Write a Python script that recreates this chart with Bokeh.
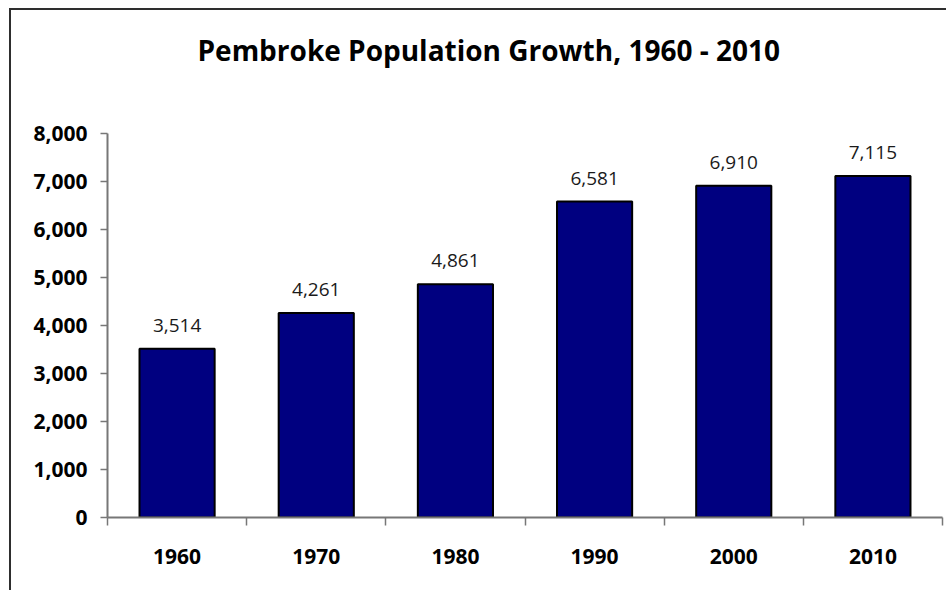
import numpy as np
from bokeh.plotting import figure
from bokeh.models import (ColumnDataSource, Range1d, FixedTicker, NumeralTickFormatter,
                          LabelSet, Title)
from bokeh.core.properties import value
from bokeh.embed import file_html
from bokeh.resources import INLINE

# ---- data ----
years = ["1960", "1970", "1980", "1990", "2000", "2010"]
population = [3514, 4261, 4861, 6581, 6910, 7115]
y_ticks = [0, 1000, 2000, 3000, 4000, 5000, 6000, 7000, 8000]
title_text = "Pembroke Population Growth, 1960 - 2010"

FONT = "Open Sans"
xpos = [i + 0.5 for i in range(len(years))]
src = ColumnDataSource(dict(
    x=xpos, top=population, year=years,
    label=[f"{v:,}" for v in population],
))

p = figure(width=937, height=582, output_backend="svg", toolbar_location=None,
           x_range=Range1d(0, len(years)), y_range=Range1d(y_ticks[0], y_ticks[-1]),
           min_border_left=96, min_border_right=6, min_border_top=123, min_border_bottom=75,
           styles={"border-left": "2px solid #2e2e2e", "border-top": "2px solid #2e2e2e",
                   "margin-left": "9px", "margin-top": "8px"})
p.title.text = ""
# spacer between the chart title and the plot frame
p.add_layout(Title(text=" ", text_font_size="1px", standoff=57), "above")
p.add_layout(Title(text=title_text, align="left", offset=90, standoff=10,
                   vertical_align="bottom",
                   text_font=FONT, text_font_size="28px", text_font_style="bold",
                   text_color="black"), "above")
p.outline_line_color = None
p.background_fill_color = "white"
p.border_fill_color = "white"
p.xgrid.grid_line_color = None
p.ygrid.grid_line_color = None

p.vbar(x="x", top="top", width=0.54, source=src,
       fill_color="#000080", line_color="black", line_width=2)

labels = LabelSet(x="x", y="top", text="label", source=src,
                  text_align="center", text_baseline="alphabetic", y_offset=17,
                  text_font=value(FONT), text_font_size="19px", text_color="#1a1a1a")
p.add_layout(labels)

# x axis
xa = p.xaxis[0]
xa.ticker = FixedTicker(ticks=xpos, minor_ticks=list(range(len(years) + 1)))
xa.major_label_overrides = {x: y for x, y in zip(xpos, years)}
xa.major_tick_out = 0
xa.major_tick_in = 0
xa.minor_tick_out = 8
xa.minor_tick_in = 0
xa.minor_tick_line_color = "#777777"
xa.minor_tick_line_width = 1.5
xa.axis_line_color = "#777777"
xa.axis_line_width = 2
xa.major_label_standoff = 23
xa.major_label_text_font = FONT
xa.major_label_text_font_size = "21px"
xa.major_label_text_font_style = "bold"
xa.major_label_text_color = "black"

# y axis
ya = p.yaxis[0]
ya.ticker = FixedTicker(ticks=y_ticks)
ya.formatter = NumeralTickFormatter(format="0,0")
ya.major_tick_out = 7
ya.major_tick_in = 0
ya.minor_tick_out = 0
ya.minor_tick_in = 0
ya.major_tick_line_color = "#777777"
ya.major_tick_line_width = 1.5
ya.axis_line_color = "#777777"
ya.axis_line_width = 2
ya.major_label_standoff = 13
ya.major_label_text_font = FONT
ya.major_label_text_font_size = "21px"
ya.major_label_text_font_style = "bold"
ya.major_label_text_color = "black"

open("out.html", "w").write(file_html(p, INLINE))
